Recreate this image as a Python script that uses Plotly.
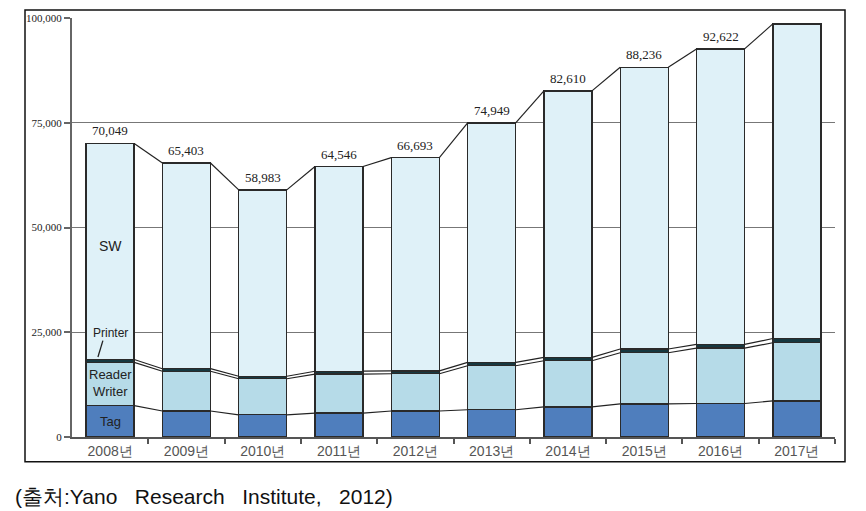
import plotly.graph_objects as go

years = ["2008년", "2009년", "2010년", "2011년", "2012년", "2013년", "2014년", "2015년", "2016년", "2017년"]
totals = [70049, 65403, 58983, 64546, 66693, 74949, 82610, 88236, 92622, 98600]
total_labels = ["70,049", "65,403", "58,983", "64,546", "66,693", "74,949", "82,610", "88,236", "92,622", ""]
tag = [7500, 6200, 5300, 5700, 6200, 6500, 7200, 7900, 8000, 8600]
reader_writer = [10300, 9500, 8600, 9300, 8900, 10500, 11000, 12200, 13200, 13900]
printer = [700, 600, 600, 700, 700, 800, 800, 900, 900, 1000]
sw = [t - a - b - c for t, a, b, c in zip(totals, tag, reader_writer, printer)]
y_ticks = [0, 25000, 50000, 75000, 100000]

BW = 0.63
xs = list(range(len(years)))

fig = go.Figure()
series = [
    ("Tag", tag, "#4f7ebd"),
    ("Reader Writer", reader_writer, "#b6dbe8"),
    ("Printer", printer, "#163840"),
    ("SW", sw, "#dff1f8"),
]
for name, vals, col in series:
    fig.add_trace(go.Bar(x=xs, y=vals, name=name, width=BW, marker=dict(color=col, line=dict(color="#2a2a2a", width=1.4))))

# connector lines between bars at each stack boundary
cum = [0] * len(xs)
bounds = []
for _, vals, _ in series:
    cum = [c + v for c, v in zip(cum, vals)]
    bounds.append(list(cum))
for b in bounds:
    lx, ly = [], []
    for i in range(len(xs) - 1):
        lx += [xs[i] + BW / 2, xs[i + 1] - BW / 2, None]
        ly += [b[i], b[i + 1], None]
    fig.add_trace(go.Scatter(x=lx, y=ly, mode="lines", line=dict(color="#222222", width=1.2), hoverinfo="skip"))

ann = []
for i, lab in enumerate(total_labels):
    if lab:
        ann.append(dict(x=xs[i], y=totals[i], text=lab, showarrow=False, yanchor="bottom", yshift=3,
                        font=dict(family="Liberation Serif", size=13, color="#222222")))
lab_font = dict(family="Liberation Sans", size=13, color="#222222")
ann += [
    dict(x=0, y=45500, text="SW", showarrow=False, font=dict(family="Liberation Sans", size=14, color="#222222")),
    dict(x=0, y=24900, text="Printer", showarrow=False, font=dict(family="Liberation Sans", size=12, color="#222222")),
    dict(x=0, y=13000, text="Reader<br>Writer", showarrow=False, font=lab_font),
    dict(x=0, y=3800, text="Tag", showarrow=False, font=lab_font),
]
# caption
ann.append(dict(xref="paper", yref="paper", x=(13 - 72) / 763, y=-(497 - 437) / 422, xanchor="left", yanchor="middle",
                text="(출처:Yano   Research   Institute,   2012)", showarrow=False,
                font=dict(family="Liberation Sans", size=21, color="#111111")))

shapes = [
    dict(type="line", x0=-0.16, y0=19100, x1=-0.095, y1=23000, line=dict(color="#222222", width=1.3)),
    dict(type="rect", xref="paper", yref="paper", x0=(25 - 72) / 763, x1=(845 - 72) / 763,
         y0=-(462 - 437) / 422, y1=1 + (15 - 7) / 422, line=dict(color="#111111", width=1.5), layer="below"),
]

fig.update_layout(
    barmode="stack", width=866, height=511, showlegend=False,
    margin=dict(l=72, r=31, t=15, b=74),
    paper_bgcolor="white", plot_bgcolor="white",
    annotations=ann, shapes=shapes,
    xaxis=dict(range=[-0.5, len(xs) - 0.5], tickvals=xs, ticktext=years, ticks="", showline=True,
               linecolor="#555555", linewidth=1.5, showgrid=False, zeroline=False,
               tickfont=dict(family="Liberation Sans", size=14, color="#555555"),
               minor=dict(tickvals=[i + 0.5 for i in xs], ticks="outside", ticklen=5, tickcolor="#555555", tickwidth=1.5, showgrid=False)),
    yaxis=dict(range=[0, 100000], tickvals=y_ticks, tickformat=",d", showline=True, linecolor="#666666", linewidth=2,
               ticks="outside", ticklen=6, tickcolor="#666666", tickwidth=1.5, showgrid=True, gridcolor="#777777",
               gridwidth=1.2, zeroline=False, tickfont=dict(family="Liberation Serif", size=11, color="#222222")),
)
fig.write_html("out.html")
